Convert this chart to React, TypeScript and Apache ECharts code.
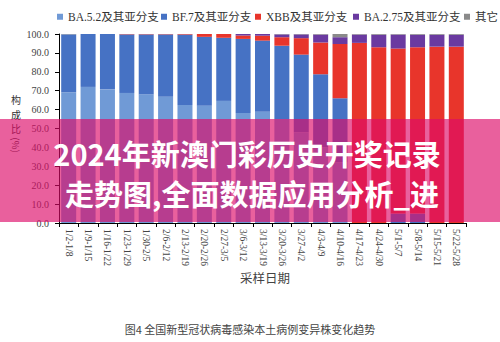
import React, { useEffect, useRef } from "react";
import * as echarts from "echarts";

const categories = [
  "1/2-1/8", "1/9-1/15", "1/16-1/22", "1/23-1/29", "1/30-2/5", "2/6-2/12", "2/13-2/19",
  "2/20-2/26", "2/27-3/5", "3/6-3/12", "3/13-3/19", "3/20-3/26", "3/27-4/2", "4/3-4/9",
  "4/10-4/16", "4/17-4/23", "4/24-4/30", "5/1-5/7", "5/8-5/14", "5/15-5/21", "5/22-5/28",
];

const seriesNames = ["BA.5.2及其亚分支", "BF.7及其亚分支", "XBB及其亚分支", "BA.2.75及其亚分支", "其它"];

const ba52 = [69.2, 72.0, 70.7, 68.8, 68.1, 66.8, 62.4, 62.0, 64.6, 58.2, 58.9, 55.0, 48.0, 40.0, 32.0, 0, 0, 0, 0, 0, 0];
const bf7 = [30.6, 28.0, 29.3, 31.0, 31.7, 33.0, 37.3, 36.5, 33.4, 39.2, 37.6, 38.8, 41.1, 38.7, 34.0, 0, 0, 5.0, 5.0, 0, 0];
const xbb = [0, 0, 0, 0.2, 0.2, 0.2, 0.3, 1.5, 2.0, 1.8, 2.6, 4.5, 8.7, 16.8, 28.7, 95.3, 93.0, 87.3, 88.0, 93.3, 93.3];
const ba275 = [0, 0, 0, 0, 0, 0, 0, 0, 0, 0.8, 0.9, 1.5, 2.0, 4.2, 3.6, 4.4, 6.6, 7.4, 6.6, 6.3, 6.3];
const other = [0.2, 0, 0, 0, 0, 0, 0, 0, 0, 0, 0, 0.2, 0.2, 0.3, 1.7, 0.3, 0.4, 0.3, 0.4, 0.4, 0.4];

const yTicks = [0, 10, 20, 30, 40, 50, 60, 70, 80, 90, 100];

const colors = ["#709ad6", "#4672c4", "#e8352b", "#6a3aa0", "#8a8a8a"];
const legendLefts = [57, 161, 255, 353, 464];

const serif = "'Liberation Serif', 'DejaVu Serif', 'Noto Sans CJK SC', serif";
const sans = "'Noto Sans CJK SC', 'Noto Sans', sans-serif";

export default function App() {
  const ref = useRef<HTMLDivElement>(null);
  useEffect(() => {
    if (!ref.current) return;
    const chart = echarts.init(ref.current, undefined, { renderer: "svg" });
    const values = [ba52, bf7, xbb, ba275, other];
    chart.setOption({
      animation: false,
      backgroundColor: "#ffffff",
      legend: seriesNames.map((n, i) => ({
        data: [n],
        left: legendLefts[i],
        top: 11,
        icon: "rect",
        itemWidth: 6,
        itemHeight: 6,
        itemGap: 0,
        padding: 0,
        textStyle: { fontFamily: serif, fontSize: 11.5, color: "#333" },
      })),
      grid: { left: 59, right: 34, top: 34, bottom: 119, containLabel: false },
      xAxis: {
        type: "category",
        data: categories,
        axisLine: { show: true, lineStyle: { color: "#000", width: 1 } },
        axisTick: { show: true, inside: false, length: 4, lineStyle: { color: "#000" } },
        axisLabel: {
          rotate: -90,
          interval: 0,
          margin: 6,
          fontFamily: serif,
          fontSize: 9.5,
          color: "#444",
        },
      },
      yAxis: {
        type: "value",
        min: yTicks[0],
        max: yTicks[yTicks.length - 1],
        interval: 10,
        splitLine: { show: false },
        axisLine: { show: true, lineStyle: { color: "#000", width: 1 } },
        axisTick: { show: true, inside: false, length: 4, lineStyle: { color: "#000" } },
        axisLabel: {
          margin: 10,
          fontFamily: serif,
          fontSize: 10,
          color: "#444",
          formatter: (v: number) => v.toFixed(1),
        },
      },
      series: seriesNames.map((n, i) => ({
        name: n,
        type: "bar",
        stack: "total",
        barWidth: 15,
        data: values[i],
        itemStyle: { color: colors[i] },
      })),
      graphic: [
        {
          type: "text",
          x: 16,
          y: 114,
          style: {
            text: "构\n成\n比",
            fontFamily: sans,
            fontSize: 10,
            lineHeight: 14.5,
            fill: "#333",
            textAlign: "center",
            textVerticalAlign: "middle",
          },
        },
        {
          type: "text",
          x: 16,
          y: 145,
          rotation: -Math.PI / 2,
          style: {
            text: "(%)",
            fontFamily: sans,
            fontSize: 9.5,
            fill: "#333",
            textAlign: "center",
            textVerticalAlign: "middle",
          },
        },
        {
          type: "text",
          x: 265,
          y: 277,
          style: {
            text: "采样日期",
            fontFamily: sans,
            fontSize: 12.5,
            fill: "#444",
            textAlign: "center",
            textVerticalAlign: "middle",
          },
        },
        {
          type: "text",
          x: 250,
          y: 329,
          style: {
            text: "图4 全国新型冠状病毒感染本土病例变异株变化趋势",
            fontFamily: sans,
            fontSize: 11,
            fill: "#444",
            textAlign: "center",
            textVerticalAlign: "middle",
          },
        },
        {
          type: "rect",
          z: 100,
          shape: { x: 0, y: 119, width: 500, height: 103 },
          style: { fill: "rgba(221,11,105,0.65)" },
        },
        {
          type: "text",
          z: 101,
          x: 247,
          y: 153,
          style: {
            text: "2024年新澳门彩历史开奖记录",
            fontFamily: sans,
            fontWeight: "bold",
            fontSize: 29,
            fill: "#ffffff",
            textAlign: "center",
            textVerticalAlign: "middle",
          },
        },
        {
          type: "text",
          z: 101,
          x: 252,
          y: 193,
          style: {
            text: "走势图,全面数据应用分析_进",
            fontFamily: sans,
            fontWeight: "bold",
            fontSize: 29,
            fill: "#ffffff",
            textAlign: "center",
            textVerticalAlign: "middle",
          },
        },
      ],
    });
    return () => chart.dispose();
  }, []);
  return <div ref={ref} style={{ width: 500, height: 342, position: "absolute", left: 0, top: 0 }} />;
}
